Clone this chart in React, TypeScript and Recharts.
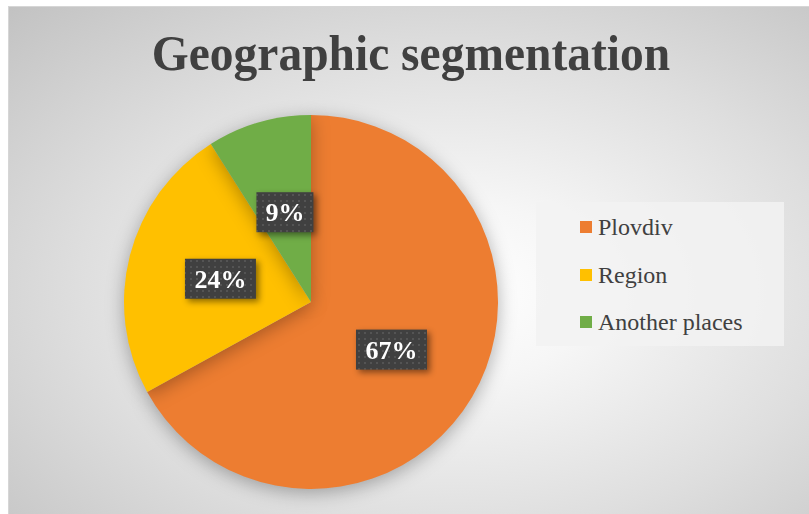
import { PieChart, Pie, Cell, Legend } from 'recharts';

const regions = ['Plovdiv', 'Region', 'Another places'];
const shares = [67, 24, 9];
const sliceColors = ['#ED7D31', '#FFC000', '#70AD47'];

const chartTitle = 'Geographic segmentation';

const data = regions.map((name, i) => ({ name, value: shares[i] }));

const RADIAN = Math.PI / 180;
const SERIF = "'Liberation Serif', 'Times New Roman', serif";

interface LabelProps {
  cx: number;
  cy: number;
  midAngle: number;
  outerRadius: number;
  percent: number;
  index: number;
}

const DarkLabel = ({ cx, cy, midAngle, outerRadius, percent, index }: LabelProps) => {
  const r = outerRadius * 0.5;
  const x = cx + r * Math.cos(-midAngle * RADIAN);
  const y = cy + r * Math.sin(-midAngle * RADIAN);
  const text = `${Math.round(percent * 100)}%`;
  const w = 29 + text.length * 14;
  const h = 40;
  const pid = `dots-${index}`;
  return (
    <g style={{ filter: 'drop-shadow(3px 3px 3px rgba(0,0,0,0.45))' }}>
      <defs>
        <pattern id={pid} width={6} height={6} patternUnits="userSpaceOnUse">
          <rect width={6} height={6} fill="#404040" />
          <rect x={2} y={2} width={2} height={2} fill="#545454" />
        </pattern>
      </defs>
      <rect x={x - w / 2} y={y - h / 2} width={w} height={h} fill={`url(#${pid})`} />
      <text
        x={x}
        y={y + 9}
        textAnchor="middle"
        fill="#ffffff"
        fontFamily={SERIF}
        fontWeight="bold"
        fontSize={26}
      >
        {text}
      </text>
    </g>
  );
};

const LegendBox = () => (
  <div
    style={{
      width: 248,
      height: 144,
      background: 'rgba(242,242,242,0.85)',
      position: 'relative',
      fontFamily: SERIF,
      fontSize: 24,
      color: '#404040',
    }}
  >
    {regions.map((name, i) => (
      <div
        key={name}
        style={{
          position: 'absolute',
          left: 44,
          top: 25 + i * 47.5 - 15,
          height: 30,
          display: 'flex',
          alignItems: 'center',
          whiteSpace: 'nowrap',
        }}
      >
        <span style={{ width: 12, height: 12, background: sliceColors[i], marginRight: 6, display: 'inline-block' }} />
        <span style={{ lineHeight: '30px' }}>{name}</span>
      </div>
    ))}
  </div>
);

export default function App() {
  return (
    <>
      <style>{`body{margin:0;overflow:hidden}`}</style>
      <div
        style={{
          marginLeft: 8,
          marginTop: 6,
          width: 801,
          height: 508,
          position: 'relative',
          borderTop: '1px solid #d6d6d6',
          borderLeft: '1px solid #d6d6d6',
          boxSizing: 'border-box',
          background:
            'radial-gradient(ellipse farthest-corner at 56% 56%, #ffffff 0%, #f6f6f6 22%, #dedede 60%, #c2c2c2 100%)',
        }}
      >
        <PieChart
          width={800}
          height={507}
          margin={{ top: 0, right: 0, bottom: 0, left: 0 }}
          style={{ position: 'absolute', left: -1, top: -1 }}
        >
          <text
            x={0}
            y={0}
            transform="translate(403,64) scale(0.95,1)"
            textAnchor="middle"
            fill="#404040"
            fontFamily={SERIF}
            fontWeight="bold"
            fontSize={50}
          >
            {chartTitle}
          </text>
          <Pie
            data={data}
            dataKey="value"
            nameKey="name"
            cx={303}
            cy={296}
            outerRadius={187}
            startAngle={90}
            endAngle={-270}
            stroke="none"
            labelLine={false}
            label={DarkLabel}
            isAnimationActive={false}
            style={{ filter: 'drop-shadow(0px 4px 9px rgba(0,0,0,0.3))' }}
          >
            {data.map((d, i) => (
              <Cell key={d.name} fill={sliceColors[i]} />
            ))}
          </Pie>
          <Legend
            layout="vertical"
            content={<LegendBox />}
            wrapperStyle={{ position: 'absolute', left: 528, top: 196, width: 248, height: 144 }}
          />
        </PieChart>
      </div>
    </>
  );
}
